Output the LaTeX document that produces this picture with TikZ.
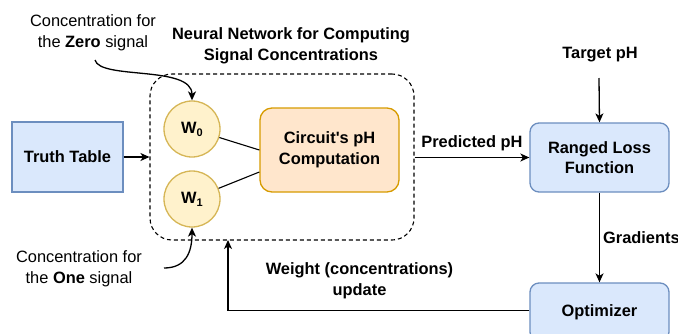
\documentclass[tikz,border=0pt]{standalone}
\usepackage{fontspec}
\setmainfont{Liberation Sans}[Ligatures=TeXOff]
\usetikzlibrary{arrows.meta}
\definecolor{bluefill}{HTML}{DAE8FC}
\definecolor{bluedraw}{HTML}{6C8EBF}
\definecolor{yelfill}{HTML}{FFF2CC}
\definecolor{yeldraw}{HTML}{D6B656}
\definecolor{orfill}{HTML}{FFE6CC}
\definecolor{ordraw}{HTML}{D79B00}
\tikzset{
  base/.style={font=\fontsize{16.4}{20.5}\selectfont, align=center, inner sep=0pt},
  bluebox/.style={base, font=\fontsize{16.4}{20.5}\selectfont\bfseries, draw=bluedraw, fill=bluefill, line width=1.3pt},
  roundblue/.style={bluebox, rounded corners=9pt},
  neuron/.style={base, font=\fontsize{16.4}{20.5}\selectfont\bfseries, circle, draw=yeldraw, fill=yelfill, line width=1.3pt, minimum size=56pt},
  compbox/.style={base, font=\fontsize{16.4}{20.5}\selectfont\bfseries, draw=ordraw, fill=orfill, line width=1.3pt, rounded corners=12pt},
  container/.style={draw=black, line width=1.1pt, dash pattern=on 4pt off 3pt, rounded corners=22pt},
  lbl/.style={base, font=\fontsize{16.4}{20.5}\selectfont\bfseries},
  note/.style={base},
  conn/.style={line width=1.3pt, -{Stealth[length=9pt,width=8pt,inset=2.5pt]}},
  plain/.style={line width=1.1pt}
}
\newcommand{\wsub}[1]{W\raisebox{-0.35ex}{\fontsize{11}{11}\selectfont\bfseries #1}}
\begin{document}
\begin{tikzpicture}[x=1pt,y=-1pt]
\useasboundingbox (0,0) rectangle (678,333);
\clip (0,0) rectangle (678,333);

% container
\node[container, minimum width=264pt, minimum height=166pt] (nn) at (282,157) {};
\node[lbl] (nntitle) at (291,46) {Neural Network for Computing\\Signal Concentrations};

% boxes
\node[bluebox, minimum width=111pt, minimum height=70pt] (tt) at (67.5,157) {Truth Table};
\node[neuron] (w0) at (192,129) {\wsub{0}};
\node[neuron] (w1) at (192,199) {\wsub{1}};
\node[compbox, minimum width=139pt, minimum height=84pt] (comp) at (329.5,150) {Circuit's pH\\Computation};
\node[roundblue, minimum width=139pt, minimum height=69pt] (loss) at (599.5,157.5) {Ranged Loss\\Function};
\node[roundblue, minimum width=139pt, minimum height=58pt] (opt) at (599.5,312) {\raisebox{2.5pt}{Optimizer}};

% texts
\node[lbl] (target) at (600,55) {Target pH};
\node[note] (zero) at (93,33) {Concentration for\\the \textbf{Zero} signal};
\node[note] (one) at (79,269) {Concentration for\\the \textbf{One} signal};

\coordinate (tstart) at (599,78);
\coordinate (zs) at (95,60);
\coordinate (os) at (164,268);
\coordinate (corner) at (228,310.5);
\coordinate (nnb) at (228,240);

% connectors
\draw[plain] (w0) -- (comp.west |- 0,150);
\draw[plain] (w1) -- (comp.west |- 0,172);
\draw[conn] (tt.east) -- (nn.west |- tt.east);
\draw[conn] (nn.east |- loss.west) -- node[lbl, above=6pt] (pred) {Predicted pH} (loss.west);
\draw[conn] (tstart) -- (loss.north);
\draw[conn] (loss.south) -- node[lbl, right=3pt] (grad) {Gradients} (opt.north);
\draw[conn] (opt.west |- corner) -- (corner) -- (nnb);
\node[lbl] (wu) at (359.5,281) {Weight (concentrations)\\update};
\draw[conn] (zs) .. controls (100,80) and (192,65) .. (w0.north);
\draw[conn] (os) .. controls (186,268) and (192,252) .. (w1.south);
\end{tikzpicture}
\end{document}
